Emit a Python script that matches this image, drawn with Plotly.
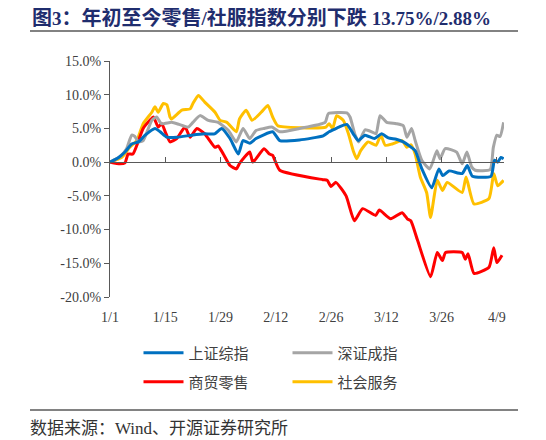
import pandas as pd
import plotly.graph_objects as go

base = pd.Timestamp("2021-01-01")

# day offsets from 1/1 and index returns (%)
sh_days = [0, 2, 3.8, 5.5, 7.2, 8.9, 11.4, 12.7, 14.4, 17, 20.7, 24, 26.5, 28.3, 30.4, 32.5,
           33.7, 35.4, 37, 41.2, 43, 48, 54, 55.5, 56.2, 58, 60, 61.6, 62.9, 64.6, 67, 68.8,
           70.5, 72.5, 74.3, 75.6, 77.3, 79, 81.5, 83.3, 84.3, 85.9, 89.2, 90.5, 91.8, 96.5,
           97.4, 98.2, 99, 99.7]
sh_vals = [0, 0.6, 1.5, 2.7, 3.0, 4.0, 5.0, 4.5, 3.7, 3.7, 4.0, 4.2, 4.2, 5.0, 3.5, 1.2,
           3.2, 2.8, 3.5, 4.5, 3.2, 3.3, 3.9, 4.5, 4.7, 5.2, 5.6, 4.2, 3.2, 4.0, 3.5, 4.2,
           3.6, 3.4, 3.0, 2.5, 1.7, -1.0, -3.8, -1.0, -2.0, -1.3, -1.7, -0.5, -2.1, -2.1,
           0.3, 0.0, 0.7, 0.5]

sz_days = [0, 2.5, 4.2, 5.5, 6.3, 7.2, 8.4, 10.6, 11.8, 13, 15.6, 17.5, 19.8, 21, 22.8, 24.9,
           27.4, 30, 32, 33.7, 35.4, 37, 39, 41, 43, 48, 54.5, 55.3, 60, 60.8, 62.1, 63, 64.6,
           66.3, 67.4, 68.4, 70.1, 72.5, 74.3, 75.2, 76.4, 77.3, 79, 81, 82.8, 83.6, 84.9,
           87.8, 89.2, 90.4, 91.6, 92.5, 96.3, 97.1, 98, 98.8, 99.7]
sz_vals = [0, 0.8, 2.0, 4.0, 3.8, 3.0, 3.2, 6.2, 6.7, 5.7, 5.9, 5.6, 5.2, 5.9, 6.9, 6.2,
           5.9, 4.7, 3.0, 5.0, 3.5, 4.7, 5.0, 5.2, 4.5, 5.0, 5.9, 7.2, 7.3, 6.7, 4.0, 3.0, 4.8,
           4.5, 4.2, 6.9, 5.9, 5.7, 5.4, 3.7, 5.0, 3.2, 0.25, -1.0, 1.7, 0.5, 2.0,
           1.5, -0.25, 1.5, -0.7, -1.2, -1.1, 2.2, 4.0, 3.8, 5.9]

retail_days = [0, 2.5, 3.8, 4.6, 5.8, 6.8, 8.4, 10.1, 11, 12.2, 13.1, 14, 15.2, 16.9, 19, 20.3,
               22, 24, 26.6, 27.4, 28.7, 30.4, 32, 32.8, 34, 35.4, 36.2, 39, 40.4, 41.2, 43,
               53.9, 55, 56, 57.2, 59.8, 61.9, 64, 67.3, 68.2, 71.1, 74, 75.3, 76.2, 77.9, 81.2,
               82.9, 84.2, 85, 89.2, 90, 90.7, 92.2, 96, 97.2, 98, 99.3]
retail_vals = [0, -0.25, -0.1, 1.2, 1.2, 2.5, 5.0, 6.2, 6.7, 5.2, 5.7, 4.5, 3.0, 3.5, 5.2, 3.7,
               5.0, 4.2, 2.2, 2.4, 1.2, -0.5, -1.0, -0.2, 0.7, 1.5, 0.0, 2.0, 1.2, 1.0, -1.2,
               -2.6, -2.7, -3.6, -3.0, -5.0, -8.7, -6.9, -7.9, -7.1, -8.4, -7.5, -8.4, -8.7, -11.6, -17.0,
               -13.4, -14.6, -13.4, -13.4, -14.4, -13.6, -16.5, -15.6, -12.7, -14.9, -13.8]

service_days = [0, 3, 5, 6.8, 8.4, 10.6, 11.4, 12.2, 13.5, 14.4, 15.2, 15.6, 18.2, 20.3, 21, 22.4,
                24, 26.6, 27.9, 29.6, 32, 32.8, 34.5, 36, 38.3, 40, 41.2, 42.5, 48, 54.7, 55.5,
                56.4, 57.4, 59.1, 60.4, 61.6, 62.5, 63.5, 65.4, 67.4, 68.6, 69.7, 71.5, 74, 75.2,
                76.2, 77.3, 78.6, 80.2, 81.2, 82.9, 84.2, 85.4, 89.2, 90.2, 92.2, 96, 97.2, 98.2, 99.7]
service_vals = [0, 0.7, 2.2, 3.2, 5.7, 7.4, 8.2, 7.4, 8.7, 8.5, 6.7, 6.4, 7.7, 7.9, 8.7, 9.9,
                8.9, 7.4, 6.2, 5.9, 4.5, 6.4, 7.7, 6.2, 7.4, 8.4, 6.7, 5.4, 5.1, 5.2, 5.7,
                5.0, 6.9, 6.2, 4.2, 1.7, 0.5, 1.7, 3.0, 2.5, 4.0, 2.5, 2.7, 3.2, 2.2,
                2.6, 1.2, -2.2, -4.5, -8.2, -2.7, -4.2, -3.0, -4.5, -2.2, -6.2, -5.4, -1.7, -3.5, -2.7]

x_tick_days = [0, 14, 28, 42, 56, 70, 84, 98]
x_tick_labels = ["1/1", "1/15", "1/29", "2/12", "2/26", "3/12", "3/26", "4/9"]
y_tick_vals = [15, 10, 5, 0, -5, -10, -15, -20]
y_tick_labels = ["15.0%", "10.0%", "5.0%", "0.0%", "-5.0%", "-10.0%", "-15.0%", "-20.0%"]


def to_dates(days):
    return base + pd.to_timedelta(days, unit="D")


# the page body adds an 8px margin, so the figure is 8px smaller than the window
W, H = 538, 432
L, R, T, B = 102, 42, 53, 143
PW, PH = W - L - R, H - T - B


def px_x(px):
    return (px - L) / PW


def px_y(py):
    return (H - B - py) / PH


serif = "Liberation Serif, Noto Sans CJK SC"

series = [
    ("上证综指", sh_days, sh_vals, "#0070C0", "legend"),
    ("深证成指", sz_days, sz_vals, "#A5A5A5", "legend"),
    ("商贸零售", retail_days, retail_vals, "#FF0000", "legend2"),
    ("社会服务", service_days, service_vals, "#FFC000", "legend2"),
]

fig = go.Figure()
# draw order: yellow, red, gray, blue on top like the original
for name, d, v, c, lg in [series[3], series[2], series[1], series[0]]:
    fig.add_trace(go.Scatter(
        x=to_dates(d), y=v, name=name, mode="lines", legend=lg,
        line=dict(color=c, width=3, shape="spline", smoothing=0.5),
    ))
# empty trace so the zero-line axis is drawn
fig.add_trace(go.Scatter(x=[], y=[], xaxis="x2", showlegend=False, hoverinfo="skip"))

xr = [base, base + pd.Timedelta(days=99.8)]

legend_common = dict(
    orientation="h", xref="container", yref="container", x=130.5 / W,
    xanchor="left", yanchor="middle", entrywidth=94, entrywidthmode="pixels",
    itemwidth=40, traceorder="reversed",
    font=dict(family="Noto Sans CJK SC", size=15, color="#404040"),
    bgcolor="rgba(0,0,0,0)",
)

title_text = ("<b>图<span style='font-size:19px'>3</span>：年初至今零售"
              "<span style='font-size:19px'>/</span>社服指数分别下跌 "
              "<span style='font-size:19px'>13.75%/2.88%</span></b>")

fig.update_layout(
    width=W, height=H,
    margin=dict(l=L, r=R, t=T, b=B),
    plot_bgcolor="white", paper_bgcolor="white",
    title=dict(
        text=title_text,
        x=24 / W, xanchor="left", y=1 - 10 / H, yanchor="middle",
        font=dict(family=serif, size=20, color="#1F2D6E"),
    ),
    xaxis=dict(
        type="date", range=xr, tickvals=to_dates(x_tick_days), ticktext=x_tick_labels,
        ticks="outside", ticklen=7, tickcolor="rgba(0,0,0,0)",
        showline=False, showgrid=False, zeroline=False,
        tickfont=dict(family=serif, size=14, color="#404040"),
    ),
    xaxis2=dict(
        type="date", range=xr, overlaying="x", anchor="free", position=20 / 35,
        side="bottom", showline=True, linecolor="#595959", linewidth=1,
        ticks="inside", ticklen=5, tickcolor="#595959", tickvals=to_dates(x_tick_days),
        showticklabels=False, showgrid=False, zeroline=False,
    ),
    yaxis=dict(
        range=[-20, 15], tickvals=y_tick_vals, ticktext=y_tick_labels,
        ticks="outside", ticklen=5, tickcolor="#595959",
        showline=True, linecolor="#595959", linewidth=1,
        showgrid=False, zeroline=False,
        tickfont=dict(family=serif, size=14, color="#404040"),
    ),
    legend=dict(legend_common, y=1 - 345 / H),
    legend2=dict(legend_common, y=1 - 374 / H),
    showlegend=True,
)

# rule under the title and above the source note
for py in [23, 402]:
    fig.add_shape(type="line", xref="paper", yref="paper",
                  x0=px_x(22), x1=px_x(510), y0=px_y(py), y1=px_y(py),
                  line=dict(color="#595959", width=1.5))

fig.add_annotation(
    text="数据来源：Wind、开源证券研究所", xref="paper", yref="paper",
    x=px_x(20), y=px_y(420), xanchor="left", yanchor="middle", showarrow=False,
    font=dict(family=serif, size=17, color="#333333"),
)

fig.write_html("out.html")
